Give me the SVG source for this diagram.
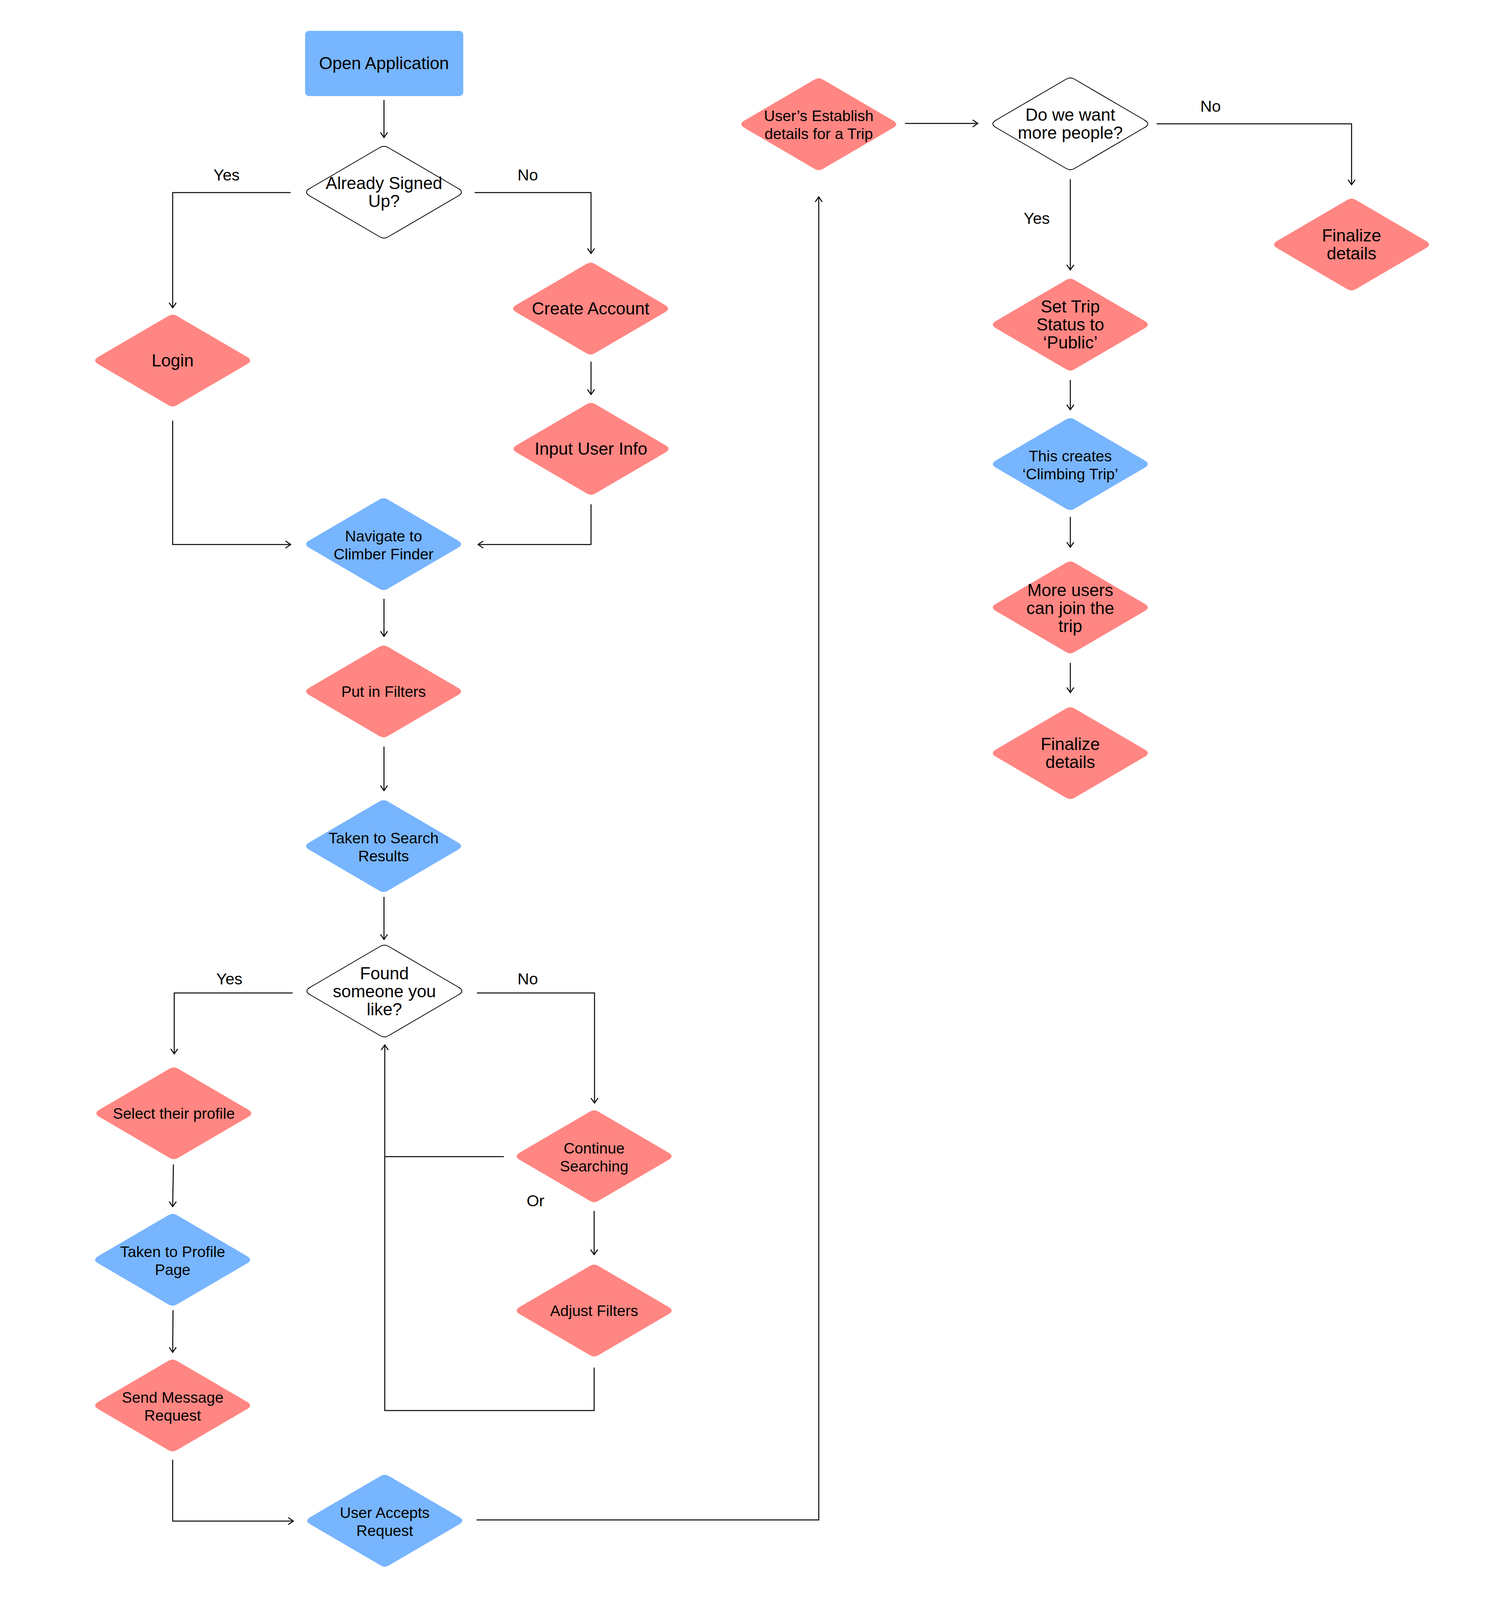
<svg xmlns="http://www.w3.org/2000/svg" xmlns:xlink="http://www.w3.org/1999/xlink" width="3840" height="4285" viewBox="0 0 3840 4285">
<style>
  .pink { fill: #FF8682; }
  .blue { fill: #77B5FE; }
  .dec { fill: #FFFFFF; stroke: #000000; stroke-width: 2; }
  .t { font-family: "Liberation Sans", Arial, sans-serif; fill: #000000; text-anchor: middle; }
  .big { font-size: 44px; }
  .sm { font-size: 39px; }
  .lbl { font-family: "Liberation Sans", Arial, sans-serif; font-size: 41px; fill: #000000; text-anchor: middle; }
  .conn path { fill: none; stroke: #000000; stroke-width: 2.5; }
</style>
<defs>
  <path id="dia" d="M -189.2,-10 L -10.4,-114.5 Q 0,-120.5 10.4,-114.5 L 189.2,-10 Q 207.5,0 189.2,10 L 10.4,114.5 Q 0,120.5 -10.4,114.5 L -189.2,10 Q -207.5,0 -189.2,-10 Z"/>
  <marker id="arr" viewBox="-16 -12 18 24" refX="0" refY="0" markerWidth="18" markerHeight="24" markerUnits="userSpaceOnUse" orient="auto">
    <path d="M -13,-9 L 0,0 L -13,9" fill="none" stroke="#000000" stroke-width="2.5"/>
  </marker>
</defs>
<rect width="3840" height="4285" fill="#FFFFFF"/>

<g id="connectors" class="conn">
  <path d="M 983,256 V 352" marker-end="url(#arr)"/>
  <path d="M 744,493 H 442 V 788" marker-end="url(#arr)"/>
  <path d="M 1215,493 H 1513 V 649" marker-end="url(#arr)"/>
  <path d="M 1513,926 V 1010" marker-end="url(#arr)"/>
  <path d="M 442,1077 V 1394 H 744" marker-end="url(#arr)"/>
  <path d="M 1513,1291 V 1394 H 1224" marker-end="url(#arr)"/>
  <path d="M 983,1533 V 1629" marker-end="url(#arr)"/>
  <path d="M 983,1911 V 2024" marker-end="url(#arr)"/>
  <path d="M 983,2296 V 2405" marker-end="url(#arr)"/>
  <path d="M 749,2542 H 446 V 2698" marker-end="url(#arr)"/>
  <path d="M 1221,2542 H 1522 V 2824" marker-end="url(#arr)"/>
  <path d="M 1290,2961 H 985"/>
  <path d="M 1521,3501 V 3611 H 985 V 2675" marker-end="url(#arr)"/>
  <path d="M 1521,3100 V 3212" marker-end="url(#arr)"/>
  <path d="M 444,2981 L 442,3089" marker-end="url(#arr)"/>
  <path d="M 443,3354 L 442,3462" marker-end="url(#arr)"/>
  <path d="M 442,3737 V 3894 H 751" marker-end="url(#arr)"/>
  <path d="M 1220,3891 H 2096 V 504" marker-end="url(#arr)"/>
  <path d="M 2317,316 H 2503" marker-end="url(#arr)"/>
  <path d="M 2961,317 H 3460 V 473" marker-end="url(#arr)"/>
  <path d="M 2740,459 V 691" marker-end="url(#arr)"/>
  <path d="M 2740,973 V 1049" marker-end="url(#arr)"/>
  <path d="M 2740,1323 V 1401" marker-end="url(#arr)"/>
  <path d="M 2740,1697 V 1773" marker-end="url(#arr)"/>
</g>

<g id="labels">
  <text class="lbl" x="580" y="462">Yes</text>
  <text class="lbl" x="1351" y="462">No</text>
  <text class="lbl" x="587" y="2520">Yes</text>
  <text class="lbl" x="1351" y="2520">No</text>
  <text class="lbl" x="1371" y="3088">Or</text>
  <text class="lbl" x="3099" y="286">No</text>
  <text class="lbl" x="2654" y="573">Yes</text>
</g>

<g id="open-application">
  <rect x="781" y="79" width="405" height="167" rx="10" class="blue"/>
  <text class="t big" x="983" y="177">Open Application</text>
</g>
<g id="already-signed-up">
  <use xlink:href="#dia" href="#dia" x="983" y="492" class="dec"/>
  <text class="t big" x="983" y="484">Already Signed</text>
  <text class="t big" x="983" y="530">Up?</text>
</g>
<g id="login">
  <use xlink:href="#dia" href="#dia" x="442" y="923" class="pink"/>
  <text class="t big" x="442" y="938">Login</text>
</g>
<g id="create-account">
  <use xlink:href="#dia" href="#dia" x="1512" y="790" class="pink"/>
  <text class="t big" x="1512" y="805">Create Account</text>
</g>
<g id="input-user-info">
  <use xlink:href="#dia" href="#dia" x="1513" y="1149" class="pink"/>
  <text class="t big" x="1513" y="1164">Input User Info</text>
</g>
<g id="navigate">
  <use xlink:href="#dia" href="#dia" x="982" y="1393" class="blue"/>
  <text class="t sm" x="982" y="1386">Navigate to</text>
  <text class="t sm" x="982" y="1432">Climber Finder</text>
</g>
<g id="put-in-filters">
  <use xlink:href="#dia" href="#dia" x="982" y="1770" class="pink"/>
  <text class="t sm" x="982" y="1784">Put in Filters</text>
</g>
<g id="taken-to-search">
  <use xlink:href="#dia" href="#dia" x="982" y="2166" class="blue"/>
  <text class="t sm" x="982" y="2159">Taken to Search</text>
  <text class="t sm" x="982" y="2205">Results</text>
</g>
<g id="found-someone">
  <use xlink:href="#dia" href="#dia" x="984" y="2537" class="dec"/>
  <text class="t big" x="984" y="2507">Found</text>
  <text class="t big" x="984" y="2553">someone you</text>
  <text class="t big" x="984" y="2599">like?</text>
</g>
<g id="select-profile">
  <use xlink:href="#dia" href="#dia" x="445" y="2850" class="pink"/>
  <text class="t sm" x="445" y="2864">Select their profile</text>
</g>
<g id="continue-searching">
  <use xlink:href="#dia" href="#dia" x="1521" y="2960" class="pink"/>
  <text class="t sm" x="1521" y="2953">Continue</text>
  <text class="t sm" x="1521" y="2999">Searching</text>
</g>
<g id="adjust-filters">
  <use xlink:href="#dia" href="#dia" x="1521" y="3355" class="pink"/>
  <text class="t sm" x="1521" y="3369">Adjust Filters</text>
</g>
<g id="taken-to-profile">
  <use xlink:href="#dia" href="#dia" x="442" y="3225" class="blue"/>
  <text class="t sm" x="442" y="3218">Taken to Profile</text>
  <text class="t sm" x="442" y="3264">Page</text>
</g>
<g id="send-message">
  <use xlink:href="#dia" href="#dia" x="442" y="3598" class="pink"/>
  <text class="t sm" x="442" y="3591">Send Message</text>
  <text class="t sm" x="442" y="3637">Request</text>
</g>
<g id="user-accepts">
  <use xlink:href="#dia" href="#dia" x="985" y="3893" class="blue"/>
  <text class="t sm" x="985" y="3886">User Accepts</text>
  <text class="t sm" x="985" y="3932">Request</text>
</g>
<g id="users-establish">
  <use xlink:href="#dia" href="#dia" x="2096" y="318" class="pink"/>
  <text class="t sm" x="2096" y="310">User’s Establish</text>
  <text class="t sm" x="2096" y="356">details for a Trip</text>
</g>
<g id="more-people">
  <use xlink:href="#dia" href="#dia" x="2740" y="317" class="dec"/>
  <text class="t big" x="2740" y="309">Do we want</text>
  <text class="t big" x="2740" y="355">more people?</text>
</g>
<g id="finalize-right">
  <use xlink:href="#dia" href="#dia" x="3460" y="626" class="pink"/>
  <text class="t big" x="3460" y="618">Finalize</text>
  <text class="t big" x="3460" y="664">details</text>
</g>
<g id="set-trip-status">
  <use xlink:href="#dia" href="#dia" x="2740" y="831" class="pink"/>
  <text class="t big" x="2740" y="800">Set Trip</text>
  <text class="t big" x="2740" y="846">Status to</text>
  <text class="t big" x="2740" y="892">‘Public’</text>
</g>
<g id="this-creates">
  <use xlink:href="#dia" href="#dia" x="2740" y="1188" class="blue"/>
  <text class="t sm" x="2740" y="1181">This creates</text>
  <text class="t sm" x="2740" y="1227">‘Climbing Trip’</text>
</g>
<g id="more-users">
  <use xlink:href="#dia" href="#dia" x="2740" y="1555" class="pink"/>
  <text class="t big" x="2740" y="1526">More users</text>
  <text class="t big" x="2740" y="1572">can join the</text>
  <text class="t big" x="2740" y="1618">trip</text>
</g>
<g id="finalize-bottom">
  <use xlink:href="#dia" href="#dia" x="2740" y="1928" class="pink"/>
  <text class="t big" x="2740" y="1920">Finalize</text>
  <text class="t big" x="2740" y="1966">details</text>
</g>
</svg>
